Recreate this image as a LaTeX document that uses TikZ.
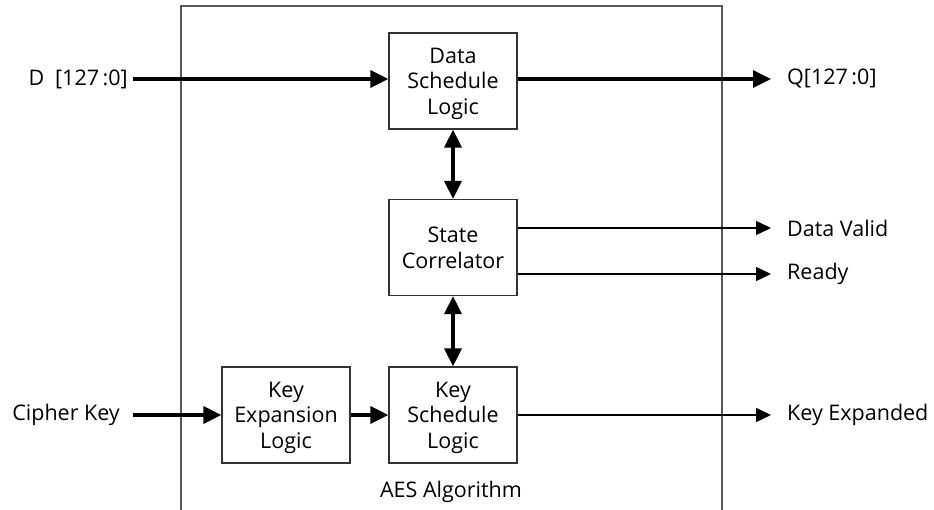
\documentclass[tikz,border=0pt]{standalone}
\usepackage{fontspec}
\setmainfont{Open Sans}
\usetikzlibrary{arrows.meta}
\begin{document}
\begin{tikzpicture}[x=1pt,y=-1pt,
  font=\fontsize{21.5}{25.5}\selectfont,
  block/.style={draw=black!80, line width=1.2pt, minimum width=128pt, minimum height=96pt,
    align=center, inner sep=0pt, text depth=0pt},
  frame/.style={draw=black!65, line width=1.3pt},
  bus/.style={-{Triangle[length=18pt,width=17pt]}, line width=3.2pt},
  wire/.style={-{Triangle[length=15pt,width=14pt]}, line width=1.4pt},
  biwire/.style={{Triangle[length=18pt,width=17pt]}-{Triangle[length=18pt,width=17pt]}, line width=3.2pt},
  inlabel/.style={anchor=east, inner sep=0pt},
  outlabel/.style={anchor=west, inner sep=0pt}]
\useasboundingbox (0,0) rectangle (934,510);

% enclosing AES block, open at the bottom
\draw[frame] (181,512) -- (181,6) -- (722,6) -- (722,512);
\node (aes) at (451,492) {AES Algorithm};

% functional blocks
\node[block] (dsl) at (453,81)    {Data\\Schedule\\Logic};
\node[block] (sc)  at (453,247.5) {State\\Correlator};
\node[block] (ksl) at (453,415)   {Key\\Schedule\\Logic};
\node[block] (kel) at (286,415)   {Key\\Expansion\\Logic};

% external signals
\node[inlabel]  (din) at (128,79)  {D\enspace[127\,:0]};
\node[inlabel]  (ck)  at (120,415) {Cipher Key};
\node[outlabel] (q)   at (787,79)  {Q[127\,:0]};
\node[outlabel] (dv)  at (787,228) {Data Valid};
\node[outlabel] (rdy) at (787,274) {Ready};
\node[outlabel] (ke)  at (787,415) {Key Expanded};

% connections
\draw[bus, shorten <=5pt] (din.east) -- (dsl.west |- din.east);
\draw[bus, shorten >=16pt] (dsl.east |- q.west) -- (q.west);
\draw[biwire] (dsl.south) -- (sc.north);
\draw[biwire] (sc.south) -- (ksl.north);
\draw[wire, shorten >=16pt] (sc.east |- dv.west) -- (dv.west);
\draw[wire, shorten >=16pt] (sc.east |- rdy.west) -- (rdy.west);
\draw[bus, shorten <=13pt] (ck.east) -- (kel.west);
\draw[bus] (kel.east) -- (ksl.west);
\draw[wire, shorten >=16pt] (ksl.east) -- (ke.west);
\end{tikzpicture}
\end{document}
